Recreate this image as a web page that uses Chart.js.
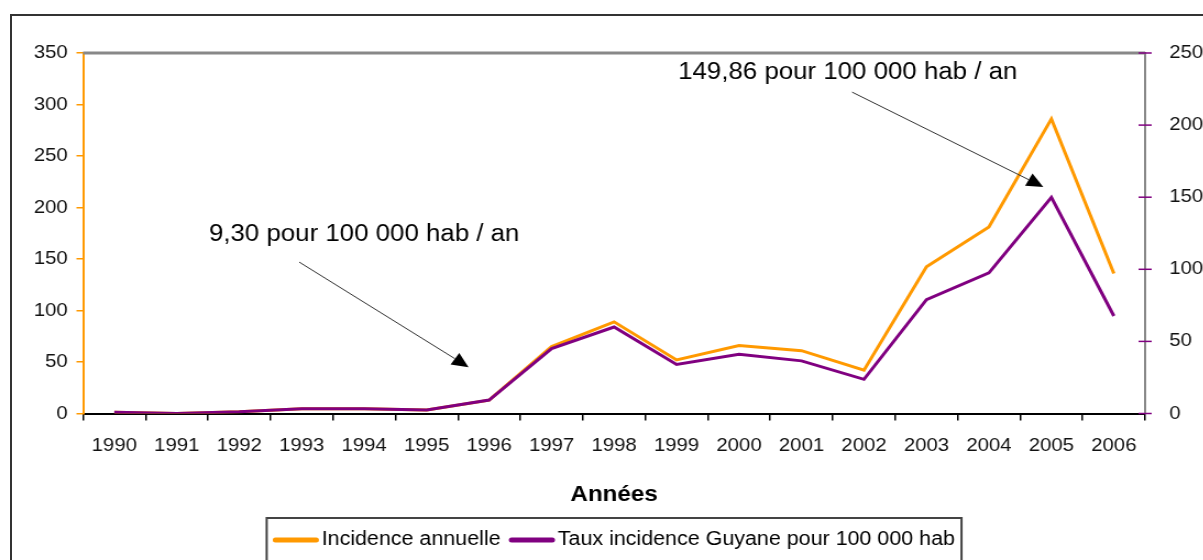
<!DOCTYPE html>
<html lang="fr">
<head>
<meta charset="utf-8">
<title>Incidence annuelle - Guyane 1990-2006</title>
<script src="https://cdn.jsdelivr.net/npm/chart.js@4/dist/chart.umd.min.js"></script>
<style>
  html, body { margin: 0; padding: 0; background: #fff; overflow: hidden; width: 1203px; height: 560px; }
  #frame { position: absolute; left: 10px; top: 14px; width: 1400px; height: 800px; border: 2px solid #333; box-sizing: border-box; }
  /* the chart is laid out slightly narrow and widened, like the original export */
  #wrap { position: absolute; left: 0; top: 0; width: 1094px; height: 560px; transform: scaleX(1.1); transform-origin: 0 0; }
</style>
</head>
<body>
<div id="frame"></div>
<div id="wrap"><canvas id="chart"></canvas></div>
<script>
const years = ['1990', '1991', '1992', '1993', '1994', '1995', '1996', '1997', '1998',
               '1999', '2000', '2001', '2002', '2003', '2004', '2005', '2006'];
// cas par an (axe de gauche)
const incidence = [1.2, 0, 1.7, 4.7, 4.7, 3.4, 13, 65, 89, 52, 66, 61, 42, 142.5, 181, 286, 136];
// taux pour 100 000 hab (axe de droite)
const tauxGuyane = [0.8, 0, 1.2, 3.3, 3.3, 2.4, 9.30, 45, 60, 34, 41, 36.5, 23.7, 79, 97.5, 149.86, 67.6];

const leftMax = 350, rightMax = 250, tickStep = 50;
const seriesNames = ['Incidence annuelle', 'Taux incidence Guyane pour 100 000 hab'];
const xTitle = 'Années';

const ORANGE = '#FF9900';
const PURPLE = '#800080';
const FONT = '"Liberation Sans", Arial, sans-serif';

const fmt = v => v.toFixed(2).replace('.', ',');

// callouts pointing at the rate series; positions in (category index, left-axis value)
const callouts = [
  { index: 6,  textAt: [4, 174],      from: [2.96, 147],  to: [5.67, 45] },
  { index: 15, textAt: [11.74, 331.5], from: [11.81, 312], to: [14.87, 220] },
];

function drawArrow(ctx, x1, y1, x2, y2) {
  const a = Math.atan2(y2 - y1, x2 - x1);
  const len = 15, half = 7;
  const bx = x2 - len * Math.cos(a), by = y2 - len * Math.sin(a);
  ctx.beginPath();
  ctx.moveTo(x1, y1);
  ctx.lineTo(bx, by);
  ctx.stroke();
  ctx.beginPath();
  ctx.moveTo(x2, y2);
  ctx.lineTo(bx + half * Math.sin(a), by - half * Math.cos(a));
  ctx.lineTo(bx - half * Math.sin(a), by + half * Math.cos(a));
  ctx.closePath();
  ctx.fill();
}

const decor = {
  id: 'decor',
  beforeDatasetsDraw(chart) {
    const { ctx, chartArea: a } = chart;
    ctx.save();
    ctx.strokeStyle = '#888';
    ctx.lineWidth = 3;
    ctx.beginPath();
    ctx.moveTo(a.left, a.top);
    ctx.lineTo(a.right, a.top);
    ctx.stroke();
    ctx.restore();
  },
  afterDraw(chart) {
    const { ctx, chartArea: a, scales } = chart;
    const x = scales.x, y = scales.y, y1 = scales.y1;
    ctx.save();

    // right axis ticks cross the axis line
    ctx.strokeStyle = PURPLE;
    ctx.lineWidth = 1.5;
    y1.ticks.forEach(t => {
      const py = y1.getPixelForValue(t.value);
      ctx.beginPath();
      ctx.moveTo(a.right - 6, py);
      ctx.lineTo(a.right + 6, py);
      ctx.stroke();
    });

    // callouts
    ctx.fillStyle = '#000';
    ctx.strokeStyle = '#333';
    ctx.lineWidth = 1;
    ctx.font = '23.5px ' + FONT;
    ctx.textAlign = 'center';
    ctx.textBaseline = 'middle';
    callouts.forEach(c => {
      const label = fmt(tauxGuyane[c.index]) + ' pour 100 000 hab / an';
      ctx.fillText(label, x.getPixelForValue(c.textAt[0]), y.getPixelForValue(c.textAt[1]));
      drawArrow(ctx,
        x.getPixelForValue(c.from[0]), y.getPixelForValue(c.from[1]),
        x.getPixelForValue(c.to[0]), y.getPixelForValue(c.to[1]));
    });

    // legend in a framed box under the axis title
    ctx.font = '19.5px ' + FONT;
    ctx.textAlign = 'left';
    const sample = 41, gap = 3, itemGap = 8, pad = 6;
    const items = chart.data.datasets.map(ds => ({
      label: ds.label, color: ds.borderColor, w: ctx.measureText(ds.label).width,
    }));
    const total = items.reduce((s, it) => s + sample + gap + it.w, 0) + itemGap * (items.length - 1);
    let lx = (a.left + a.right) / 2 - total / 2;
    const ly = 540;
    ctx.strokeStyle = '#444';
    ctx.lineWidth = 2;
    ctx.strokeRect(lx - pad, 518, total + pad * 2, 80);
    items.forEach(it => {
      ctx.strokeStyle = it.color;
      ctx.lineWidth = 5;
      ctx.lineCap = 'round';
      ctx.beginPath();
      ctx.moveTo(lx + 2, ly);
      ctx.lineTo(lx + sample - 2, ly);
      ctx.stroke();
      ctx.fillStyle = '#000';
      ctx.fillText(it.label, lx + sample + gap, ly);
      lx += sample + gap + it.w + itemGap;
    });
    ctx.restore();
  },
};

new Chart(document.getElementById('chart'), {
  type: 'line',
  data: {
    labels: years,
    datasets: [
      {
        label: seriesNames[0],
        data: incidence,
        yAxisID: 'y',
        borderColor: ORANGE,
        backgroundColor: ORANGE,
        borderWidth: 3,
        borderJoinStyle: 'miter',
        pointRadius: 0,
        tension: 0,
        order: 1,
      },
      {
        label: seriesNames[1],
        data: tauxGuyane,
        yAxisID: 'y1',
        borderColor: PURPLE,
        backgroundColor: PURPLE,
        borderWidth: 3,
        borderJoinStyle: 'miter',
        pointRadius: 0,
        tension: 0,
        order: 0,
      },
    ],
  },
  options: {
    responsive: true,
    maintainAspectRatio: false,
    animation: false,
    devicePixelRatio: 1,
    layout: { padding: { top: 53, left: 0, right: 0, bottom: 52 } },
    plugins: {
      legend: { display: false },
      tooltip: { enabled: false },
    },
    scales: {
      x: {
        offset: true,
        grid: { offset: true, drawOnChartArea: false, tickLength: 7, color: '#000', lineWidth: 1.5 },
        border: { color: '#000', width: 2 },
        ticks: { color: '#111', font: { family: FONT, size: 18.5 }, padding: 14, maxRotation: 0 },
        title: { display: true, text: xTitle, color: '#000', font: { family: FONT, size: 22, weight: 'bold' }, padding: 0 },
        afterFit(scale) { scale.height = 94.5; },
      },
      y: {
        position: 'left',
        min: 0,
        max: leftMax,
        ticks: { stepSize: tickStep, color: '#111', font: { family: FONT, size: 18.5 }, padding: 8 },
        grid: { drawOnChartArea: false, tickLength: 6, color: ORANGE, lineWidth: 1.5 },
        border: { color: ORANGE, width: 2 },
        afterFit(scale) { scale.width = 75.5; },
      },
      y1: {
        position: 'right',
        min: 0,
        max: rightMax,
        ticks: { stepSize: tickStep, color: '#111', font: { family: FONT, size: 18.5 }, padding: 14 },
        grid: { display: false, drawOnChartArea: false },
        border: { display: true, color: '#888', width: 2 },
        afterFit(scale) { scale.width = 53; },
      },
    },
  },
  plugins: [decor],
});
</script>
</body>
</html>
